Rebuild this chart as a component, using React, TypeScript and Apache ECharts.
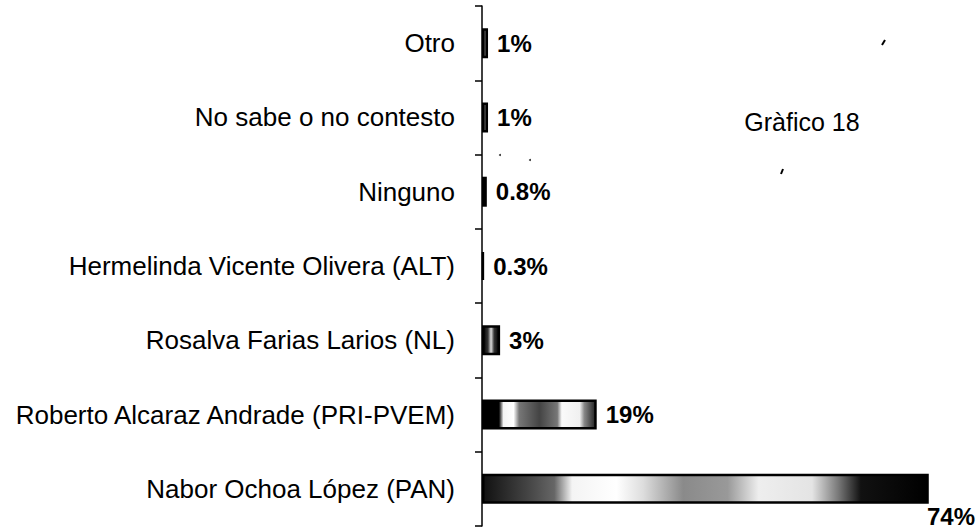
import React, { useEffect, useRef } from "react";
import * as echarts from "echarts";

const categories = [
  "Otro",
  "No sabe o no contesto",
  "Ninguno",
  "Hermelinda Vicente Olivera (ALT)",
  "Rosalva Farias Larios (NL)",
  "Roberto Alcaraz Andrade (PRI-PVEM)",
  "Nabor Ochoa López (PAN)",
];
const values = [1, 1, 0.8, 0.3, 3, 19, 74];
const valueLabels = ["1%", "1%", "0.8%", "0.3%", "3%", "19%", "74%"];
const chartTitle = "Gràfico 18";

const FONT = "'Liberation Sans', Arial, sans-serif";

function grad(stops: [number, string][]) {
  return new echarts.graphic.LinearGradient(
    0, 0, 1, 0,
    stops.map(([offset, color]) => ({ offset, color }))
  );
}

const smallFill = grad([
  [0, "#000"],
  [0.3, "#333"],
  [0.5, "#ddd"],
  [0.7, "#333"],
  [1, "#000"],
]);
const midFill = grad([
  [0, "#000"],
  [0.14, "#000"],
  [0.18, "#f4f4f4"],
  [0.27, "#fff"],
  [0.32, "#777"],
  [0.5, "#444"],
  [0.66, "#777"],
  [0.7, "#fafafa"],
  [0.86, "#f0f0f0"],
  [0.9, "#888"],
  [1, "#222"],
]);
const bigFill = grad([
  [0, "#111"],
  [0.1, "#444"],
  [0.16, "#666"],
  [0.2, "#f4f4f4"],
  [0.3, "#fff"],
  [0.36, "#ddd"],
  [0.45, "#8a8a8a"],
  [0.55, "#999"],
  [0.62, "#eee"],
  [0.74, "#e4e4e4"],
  [0.8, "#777"],
  [0.85, "#111"],
  [1, "#000"],
]);

export default function App() {
  const ref = useRef<HTMLDivElement>(null);

  useEffect(() => {
    if (!ref.current) return;
    const chart = echarts.init(ref.current, null, { renderer: "svg" });

    const data = values.map((v, i) => {
      const fill = v >= 50 ? bigFill : v >= 10 ? midFill : smallFill;
      const item: any = {
        value: v,
        itemStyle: { color: fill },
        label: {
          show: true,
          formatter: valueLabels[i],
        },
      };
      if (v >= 50) {
        item.label.position = [445, 43];
        item.label.align = "left";
        item.label.verticalAlign = "middle";
      }
      return item;
    });

    chart.setOption({
      animation: false,
      backgroundColor: "#ffffff",
      grid: { left: 482, right: 13, top: 6, height: 520 },
      xAxis: {
        type: "value",
        min: 0,
        max: 80,
        show: false,
      },
      yAxis: {
        type: "category",
        data: categories,
        inverse: true,
        axisLine: { show: true, lineStyle: { color: "#000", width: 1.5 } },
        axisTick: { show: true, length: 7, lineStyle: { color: "#000", width: 1.5 } },
        axisLabel: {
          color: "#000",
          fontSize: 26,
          fontFamily: FONT,
          margin: 27,
        },
        splitLine: { show: false },
      },
      series: [
        {
          type: "bar",
          data,
          barWidth: 30,
          itemStyle: { borderColor: "#000", borderWidth: 2.5 },
          label: {
            show: true,
            position: "right",
            distance: 9,
            color: "#000",
            fontSize: 24,
            fontWeight: "bold",
            fontFamily: FONT,
          },
        },
      ],
      graphic: [
        {
          type: "text",
          x: 802,
          y: 122,
          style: {
            text: chartTitle,
            fontSize: 25,
            fontFamily: FONT,
            fill: "#000",
            align: "center",
            verticalAlign: "middle",
          },
        },
        {
          type: "line",
          shape: { x1: 882, y1: 45, x2: 885, y2: 40 },
          style: { stroke: "#000", lineWidth: 2 },
        },
        {
          type: "line",
          shape: { x1: 781, y1: 174, x2: 783, y2: 169 },
          style: { stroke: "#000", lineWidth: 2 },
        },
        {
          type: "circle",
          shape: { cx: 500, cy: 155, r: 1 },
          style: { fill: "#333" },
        },
        {
          type: "circle",
          shape: { cx: 530, cy: 160, r: 1 },
          style: { fill: "#333" },
        },
      ],
    });

    return () => chart.dispose();
  }, []);

  return (
    <div
      ref={ref}
      style={{ position: "fixed", left: 0, top: 0, width: 978, height: 531 }}
    />
  );
}
